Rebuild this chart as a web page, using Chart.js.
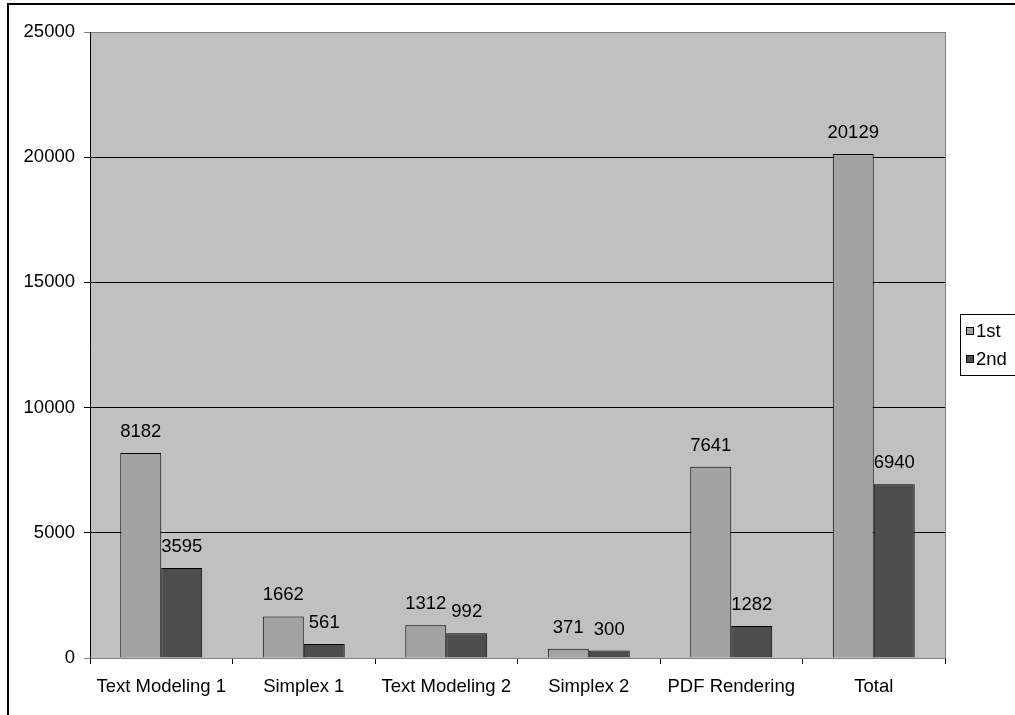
<!DOCTYPE html>
<html>
<head>
<meta charset="utf-8">
<script src="https://cdn.jsdelivr.net/npm/chart.js@4"></script>
<style>
  body { margin: 0; background: #fff; }
  #wrap { width: 1015px; height: 715px; position: relative; }
</style>
</head>
<body>
<div id="wrap"><canvas id="myChart" width="1015" height="715"></canvas></div>
<script>
var categories = ['Text Modeling 1', 'Simplex 1', 'Text Modeling 2', 'Simplex 2', 'PDF Rendering', 'Total']
var first = [8182, 1662, 1312, 371, 7641, 20129]
var second = [3595, 561, 992, 300, 1282, 6940]
var seriesNames = ['1st', '2nd']
var yTicks = [0, 5000, 10000, 15000, 20000, 25000]

var FAMILY = '"Liberation Sans", Arial, sans-serif'
var FONT = '18.5px ' + FAMILY
var colors = ['#a3a3a3', '#4d4d4d']

// grey plot background, frame lines, value labels and the boxed legend
var decor = {
  id: 'decor',
  beforeDraw: function(chart) {
    var c = chart.ctx, a = chart.chartArea
    c.save()
    c.fillStyle = '#c0c0c0'
    c.fillRect(a.left, a.top, a.right - a.left, a.bottom - a.top)
    c.strokeStyle = '#000'
    c.lineWidth = 2
    c.beginPath()
    c.moveTo(8, 715)
    c.lineTo(8, 4)
    c.lineTo(1015, 4)
    c.stroke()
    c.restore()
  },
  afterDatasetsDraw: function(chart) {
    var c = chart.ctx, a = chart.chartArea
    c.save()
    c.strokeStyle = '#808080'
    c.lineWidth = 1
    c.beginPath()
    c.moveTo(a.right + 0.5, a.top)
    c.lineTo(a.right + 0.5, a.bottom)
    c.stroke()
    c.font = FONT
    c.fillStyle = '#000'
    c.textAlign = 'center'
    c.textBaseline = 'middle'
    chart.data.datasets.forEach(function(ds, i) {
      chart.getDatasetMeta(i).data.forEach(function(bar, j) {
        c.fillText(String(ds.data[j]), bar.x, bar.y - 21)
      })
    })
    // legend
    var lx = 960, ly = 314
    c.fillStyle = '#fff'
    c.fillRect(lx, ly, 60, 61)
    c.strokeStyle = '#000'
    c.strokeRect(lx + 0.5, ly + 0.5, 60, 61)
    c.textAlign = 'left'
    seriesNames.forEach(function(name, i) {
      var cy = ly + 17 + i * 28
      c.fillStyle = colors[i]
      c.fillRect(lx + 6, cy - 4, 8, 8)
      c.strokeRect(lx + 6.5, cy - 3.5, 7, 7)
      c.fillStyle = '#000'
      c.fillText(name, lx + 16, cy + 1)
    })
    c.restore()
  }
}

var ctx = document.getElementById('myChart').getContext('2d')
const chart = new Chart(ctx, {
  type: 'bar',
  data: {
    labels: categories,
    datasets: [{
      label: seriesNames[0],
      data: first,
      backgroundColor: colors[0],
      borderColor: '#000',
      borderWidth: 1
    }, {
      label: seriesNames[1],
      data: second,
      backgroundColor: colors[1],
      borderColor: '#000',
      borderWidth: 1
    }]
  },
  options: {
    responsive: false,
    animation: false,
    layout: { padding: { top: 32, right: 70, left: 0, bottom: 0 } },
    plugins: { legend: { display: false }, tooltip: { enabled: false } },
    datasets: { bar: { categoryPercentage: 0.575, barPercentage: 1 } },
    scales: {
      x: {
        grid: { offset: true, drawOnChartArea: false, tickLength: 6, color: '#000' },
        border: { color: '#808080', width: 1 },
        ticks: { color: '#000', font: { family: FAMILY, size: 18.5 }, padding: 12, maxRotation: 0 },
        afterFit: function(s) { s.height = 57 }
      },
      y: {
        min: 0,
        max: 25000,
        afterBuildTicks: function(s) { s.ticks = yTicks.map(function(v) { return { value: v } }) },
        grid: {
          tickLength: 6,
          color: function(t) { return (t.tick && (t.tick.value === 25000 || t.tick.value === 0)) ? '#808080' : '#000' }
        },
        border: { color: '#000', width: 1 },
        ticks: {
          color: '#000',
          font: { family: FAMILY, size: 18.5 },
          padding: 9,
          callback: function(v) { return String(v) }
        },
        afterFit: function(s) { s.width = 90 }
      }
    }
  },
  plugins: [decor]
})
</script>
</body>
</html>
